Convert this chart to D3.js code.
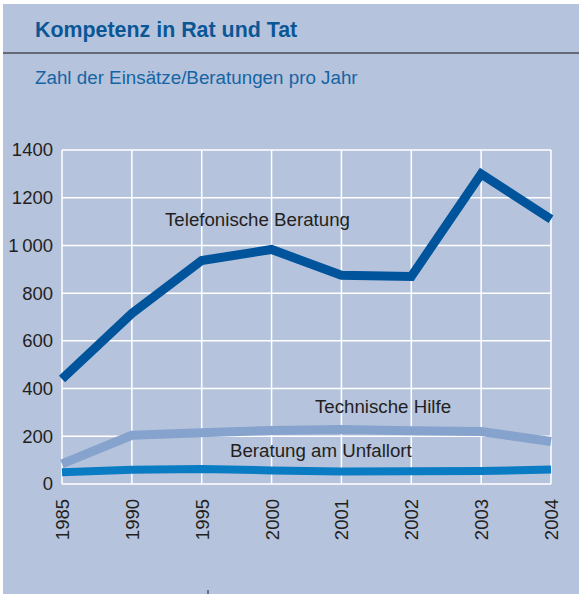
<!doctype html>
<html lang="de">
<head>
<meta charset="utf-8">
<title>Kompetenz in Rat und Tat</title>
<script src="https://cdn.jsdelivr.net/npm/d3@7"></script>
<style>
  body { margin: 0; background: #ffffff; }
  svg { display: block; font-family: "Liberation Sans", Arial, sans-serif; }
</style>
</head>
<body>
<svg></svg>
<script>
var years = ["1985", "1990", "1995", "2000", "2001", "2002", "2003", "2004"];
var telefon = [440, 715, 937, 983, 875, 870, 1300, 1110];
var technik = [84, 204, 215, 224, 228, 223, 220, 178];
var unfall = [49, 60, 63, 57, 52, 53, 54, 61];
var yTicks = [0, 200, 400, 600, 800, 1000, 1200, 1400];
var yTickLabels = ["0", "200", "400", "600", "800", "1\u2009000", "1200", "1400"];

var width = 579, height = 594;
var plotLeft = 62, plotRight = 551, plotTop = 150, plotBottom = 484;

var svg = d3.select("svg").attr("width", width).attr("height", height);

// panel background
svg.append("rect").attr("x", 3).attr("y", 4).attr("width", width - 3).attr("height", height - 4)
    .attr("fill", "#b6c3dc");

svg.append("text").attr("x", 35).attr("y", 37)
    .attr("font-size", 21.4).attr("font-weight", "bold").attr("fill", "#0b5796")
    .text("Kompetenz in Rat und Tat");

svg.append("line").attr("x1", 3).attr("x2", width).attr("y1", 53).attr("y2", 53)
    .attr("stroke", "#4a4d55").attr("stroke-width", 1.5);

svg.append("text").attr("x", 35).attr("y", 84)
    .attr("font-size", 18.8).attr("fill", "#1565a5")
    .text("Zahl der Einsätze/Beratungen pro Jahr");

var x = d3.scalePoint().domain(years).range([plotLeft, plotRight]);
var y = d3.scaleLinear().domain([0, 1400]).range([plotBottom, plotTop]);

// grid
var grid = svg.append("g").attr("stroke", "#ffffff").attr("stroke-width", 1.5);
grid.selectAll(".h").data(yTicks).enter().append("line")
    .attr("x1", plotLeft).attr("x2", plotRight)
    .attr("y1", function (d) { return y(d); }).attr("y2", function (d) { return y(d); });
grid.selectAll(".v").data(years).enter().append("line")
    .attr("y1", plotTop).attr("y2", plotBottom)
    .attr("x1", function (d) { return x(d); }).attr("x2", function (d) { return x(d); });

// axes (labels only)
var yAxis = d3.axisLeft(y).tickValues(yTicks).tickSize(0).tickPadding(9)
    .tickFormat(function (d, i) { return yTickLabels[i]; });
var gy = svg.append("g").attr("transform", "translate(" + plotLeft + ",0)").call(yAxis);
gy.select(".domain").remove();
gy.selectAll("text").attr("font-size", 18.5).attr("fill", "#231f20")
    .attr("font-family", "Liberation Sans, Arial, sans-serif");

var xAxis = d3.axisBottom(x).tickSize(0);
var gx = svg.append("g").attr("transform", "translate(0," + plotBottom + ")").call(xAxis);
gx.select(".domain").remove();
gx.selectAll("text").attr("font-size", 18.5).attr("fill", "#231f20")
    .attr("font-family", "Liberation Sans, Arial, sans-serif")
    .attr("transform", "rotate(-90)")
    .attr("text-anchor", "end")
    .attr("x", -15).attr("y", 0).attr("dy", "0.35em");

// lines
var line = d3.line()
    .x(function (d, i) { return x(years[i]); })
    .y(function (d) { return y(d); });

var series = [
    { values: technik, color: "#86a3cd", w: 9 },
    { values: unfall, color: "#0a7cc4", w: 8 },
    { values: telefon, color: "#00549c", w: 9 }
];
svg.selectAll(".series").data(series).enter().append("path")
    .attr("d", function (d) { return line(d.values); })
    .attr("fill", "none")
    .attr("stroke", function (d) { return d.color; })
    .attr("stroke-width", function (d) { return d.w; })
    .attr("stroke-linejoin", "miter");

// series labels
var labels = [
    { text: "Telefonische Beratung", x: 165, y: 226 },
    { text: "Technische Hilfe", x: 315, y: 413 },
    { text: "Beratung am Unfallort", x: 230, y: 457 }
];
svg.selectAll(".lbl").data(labels).enter().append("text")
    .attr("x", function (d) { return d.x; }).attr("y", function (d) { return d.y; })
    .attr("font-size", 18.7).attr("fill", "#231f20")
    .text(function (d) { return d.text; });

svg.append("line").attr("x1", 208).attr("x2", 208).attr("y1", 590).attr("y2", 594)
    .attr("stroke", "#231f20").attr("stroke-width", 1);
</script>
</body>
</html>
